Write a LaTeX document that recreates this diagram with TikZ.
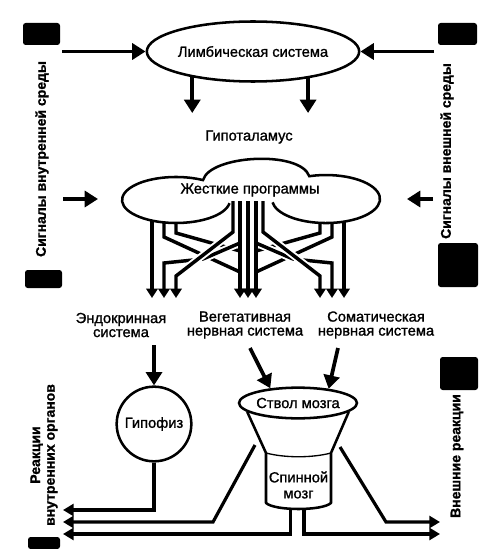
\documentclass[tikz,border=0pt]{standalone}
\usepackage{fontspec}
\setmainfont{Liberation Sans}[FakeBold=1.2]
\usetikzlibrary{arrows.meta,shapes.geometric}
\begin{document}
\begin{tikzpicture}[x=0.75pt,y=0.75pt,
  lbl/.style={font=\fontsize{11}{10.5}\selectfont, align=center, inner sep=0pt},
  sidetxt/.style={font=\bfseries\fontsize{10.5}{11}\selectfont, align=center, inner sep=0pt, rotate=90},
  big/.style={line width=2.8pt, -{Triangle[width=12pt,length=10pt]}},
  wire/.style={line width=2.6pt, line join=miter},
  tipg/.style={-{Triangle[width=8.5pt,length=7pt]}},
  bridge/.style={preaction={draw=white, line width=5.5pt, -}},
  outl/.style={draw, line width=1.9pt},
  blk/.style={fill=black, rounded corners=2pt},
  outarr/.style={line width=2.4pt, -{Triangle[width=9pt,length=8pt]}}
]
\fill[white] (0,0) rectangle (488,-549);
\useasboundingbox (0,0) rectangle (488,-549);

% black side blocks
\fill[blk] (23,-23) rectangle (60,-45);
\fill[blk] (25,-270) rectangle (62,-288);
\fill[blk] (28,-537) rectangle (60,-549);
\fill[blk] (438,-23) rectangle (477,-45);
\fill[blk] (438,-243) rectangle (478,-287);
\fill[blk] (440,-357) rectangle (478,-390);

% side texts
\node[sidetxt] (sigin) at (42,-159) {Сигналы внутренней среды};
\node[sidetxt] (sigout) at (447,-151) {Сигналы внешней среды};
\node[sidetxt] (react) at (44,-455) {Реакции\\внутренних органов};
\node[sidetxt] (ext) at (457,-456) {Внешние реакции};

% limbic system
\node[ellipse, outl, minimum width=148.5pt, minimum height=45pt, inner sep=0pt, lbl] (limb) at (253,-51.5) {Лимбическая система};
\coordinate (sl1) at (62,-51.5);
\coordinate (sr1) at (434,-51.5);
\draw[big] (sl1) -- (limb.west);
\draw[big] (sr1) -- (limb.east);

\node[lbl] (hypo) at (249,-137) {Гипоталамус};
\coordinate (d1) at (196,-113);
\coordinate (d2) at (305,-113);
\draw[big] (limb.203) -- (limb.203 |- d1);
\draw[big] (limb.334) -- (limb.334 |- d2);

% cloud text
\node[lbl] (prog) at (250,-190) {Жесткие программы};
\coordinate (sl2) at (63,-199);
\coordinate (cl) at (98,-199);
\coordinate (sr2) at (433,-199);
\coordinate (cr) at (407,-199);
\draw[big] (sl2) -- (cl);
\draw[big] (sr2) -- (cr);

% wiring
\begin{scope}[wire]
\draw[bridge] (164,-222.4) -- (164,-237) -- (240,-272);
\draw[bridge] (176,-223) -- (176,-233) -- (240,-251);
\draw[bridge,tipg] (240,-243) -- (203,-259) -- (164,-263) -- (164,-298);
\draw[bridge,tipg] (233,-201) -- (233,-232) -- (176,-276) -- (176,-298);
\draw[bridge] (332,-222.8) -- (332,-237) -- (256,-272);
\draw[bridge] (320,-222.8) -- (320,-233) -- (256,-251);
\draw[bridge,tipg] (256,-243) -- (293,-259) -- (332,-263) -- (332,-298);
\draw[bridge,tipg] (263,-201) -- (263,-232) -- (320,-276) -- (320,-298);
\draw[tipg] (152,-220.6) -- (152,-298);
\draw[tipg] (344,-221.6) -- (344,-298);
\draw[tipg] (240,-201) -- (240,-298);
\draw[tipg] (248,-201) -- (248,-298);
\draw[tipg] (256,-201) -- (256,-298);
\end{scope}

% cloud outline
\draw[outl] (229.5,-203.2) arc[start angle=-8, end angle=-300, x radius=54, y radius=23]
  .. controls (210,-155) and (300,-150) .. (309.3,-176.2)
  arc[start angle=108, end angle=-172, x radius=54, y radius=24];

% systems
\node[lbl] (endo) at (121,-325) {Эндокринная\\система};
\node[lbl] (veg) at (245,-325) {Вегетативная\\нервная система};
\node[lbl] (som) at (376,-325) {Соматическая\\нервная система};

% hypophysis
\node[circle, outl, minimum size=56pt, inner sep=0pt, lbl] (hyp) at (154,-424) {Гипофиз};
\coordinate (e1) at (154,-345);
\draw[big] (e1) -- (hyp.north);

% brain stem and spinal cord
\node[ellipse, outl, fill=white, minimum width=88pt, minimum height=23pt, inner sep=0pt, lbl] (stvol) at (298,-403) {Ствол мозга};
\coordinate (va) at (250,-348);
\coordinate (sa) at (338,-348);
\draw[big] (va) -- (stvol.152);
\draw[big] (sa) -- (stvol.25);
\coordinate (fbl) at (266,-453);
\coordinate (fbr) at (331,-453);
\draw[outl, line join=round] (stvol.190) -- (fbl) -- (266,-503) .. controls (275,-511) and (322,-511) .. (331,-503) -- (fbr) -- (stvol.-10);
\draw[line width=1pt] (fbl) .. controls (285,-458) and (312,-458) .. (fbr);
\node[lbl, font=\fontsize{11}{12}\selectfont] (spin) at (298.5,-485) {Спинной\\мозг};

% outputs
\coordinate (la1) at (63,-510);
\coordinate (la2) at (63,-522);
\coordinate (la3) at (63,-534);
\coordinate (ra1) at (440,-522);
\coordinate (ra2) at (440,-534);
\coordinate (fl) at (255,-445);
\coordinate (fr) at (340,-447);
\coordinate (cbl) at (290.5,-507.5);
\coordinate (cbr) at (304,-507.5);
\draw[outarr] (hyp.south) |- (la1);
\draw[outarr] (fl) -- (213,-522) -- (la2);
\draw[outarr] (cbl) |- (la3);
\draw[outarr] (cbr) |- (ra2);
\draw[outarr] (fr) -- (386,-522) -- (ra1);
\end{tikzpicture}
\end{document}
